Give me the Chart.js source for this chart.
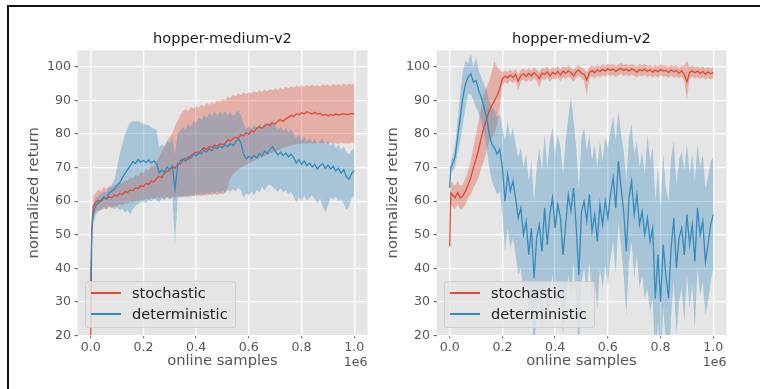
<!DOCTYPE html>
<html lang="en">

<head>
  <meta charset="UTF-8">
  <title>hopper-medium-v2</title>
  <script src="https://cdn.jsdelivr.net/npm/chart.js"></script>
  <style>
    body {
      margin: 0;
      width: 760px;
      height: 389px;
      overflow: hidden;
      position: relative;
      background: #fff;
      font-family: "DejaVu Sans", sans-serif;
    }

    .moldura {
      position: absolute;
      left: 7px;
      top: 5px;
      width: 800px;
      height: 400px;
      border-top: 2px solid #111;
      border-left: 2px solid #111;
    }

    canvas {
      position: absolute;
      top: 0;
    }

    .legenda {
      position: absolute;
      top: 281px;
      width: 151px;
      height: 47px;
      box-sizing: border-box;
      border: 1px solid #cfcfcf;
      border-radius: 3px;
      background: rgba(229, 229, 229, 0.8);
    }

    .traco {
      position: absolute;
      left: 5px;
      width: 30px;
      height: 2px;
    }

    .texto {
      position: absolute;
      left: 46px;
      font-size: 14.6px;
      line-height: 18px;
      color: #222;
      white-space: nowrap;
    }
  </style>
</head>

<body>

  <div class="moldura"></div>

  <canvas id="graficoEsquerda" width="380" height="389" style="left:0px"></canvas>
  <canvas id="graficoDireita" width="380" height="389" style="left:359px"></canvas>

  <div class="legenda" style="left:85px">
    <div class="traco" style="top:10px; background-color:#E24A33"></div>
    <div class="texto" style="top:1.5px">stochastic</div>
    <div class="traco" style="top:31px; background-color:#348ABD"></div>
    <div class="texto" style="top:23px">deterministic</div>
  </div>

  <div class="legenda" style="left:444px">
    <div class="traco" style="top:10px; background-color:#E24A33"></div>
    <div class="texto" style="top:1.5px">stochastic</div>
    <div class="traco" style="top:31px; background-color:#348ABD"></div>
    <div class="texto" style="top:23px">deterministic</div>
  </div>

</body>

</html>

<script>

  // online samples (em 1e6)
  const amostras = [0, 0.004, 0.01, 0.02, 0.03, 0.04, 0.05, 0.06, 0.07, 0.08, 0.09, 0.10,
    0.11, 0.12, 0.13, 0.14, 0.15, 0.16, 0.17, 0.18, 0.19, 0.20,
    0.21, 0.22, 0.23, 0.24, 0.25, 0.26, 0.27, 0.28, 0.29, 0.30,
    0.31, 0.32, 0.33, 0.34, 0.35, 0.36, 0.37, 0.38, 0.39, 0.40,
    0.41, 0.42, 0.43, 0.44, 0.45, 0.46, 0.47, 0.48, 0.49, 0.50,
    0.51, 0.52, 0.53, 0.54, 0.55, 0.56, 0.57, 0.58, 0.59, 0.60,
    0.61, 0.62, 0.63, 0.64, 0.65, 0.66, 0.67, 0.68, 0.69, 0.70,
    0.71, 0.72, 0.73, 0.74, 0.75, 0.76, 0.77, 0.78, 0.79, 0.80,
    0.81, 0.82, 0.83, 0.84, 0.85, 0.86, 0.87, 0.88, 0.89, 0.90,
    0.91, 0.92, 0.93, 0.94, 0.95, 0.96, 0.97, 0.98, 0.99, 1.00];

  const ticksX = [0, 0.2, 0.4, 0.6, 0.8, 1.0];
  const ticksY = [20, 30, 40, 50, 60, 70, 80, 90, 100];

  // grafico da esquerda - stochastic
  const estocEsq = [18, 50, 58.5, 59.8, 60.2, 60.0, 61.0, 60.6, 61.3, 61.0, 61.8, 61.5,
    62.3, 62.0, 62.8, 62.6, 63.4, 63.1, 64.0, 63.8, 64.6, 64.4,
    65.3, 65.0, 66.0, 65.7, 66.8, 67.4, 67.0, 68.3, 68.9, 69.2,
    70.3, 69.8, 71.2, 71.0, 72.2, 72.8, 72.4, 73.6, 74.1, 74.6,
    74.2, 75.3, 75.9, 75.5, 76.3, 76.0, 76.8, 76.4, 77.1, 76.9,
    77.2, 78.3, 78.0, 78.6, 79.1, 78.7, 79.8, 79.5, 80.4, 80.0,
    81.0, 80.7, 81.8, 82.2, 81.7, 82.5, 83.0, 82.6, 83.3, 83.0,
    83.9, 84.3, 83.8, 84.6, 85.0, 85.6, 85.2, 86.1, 85.8, 86.4,
    86.0, 86.7, 86.3, 86.0, 86.5, 85.9, 86.2, 85.6, 85.9, 85.5,
    85.8, 85.6, 86.0, 85.7, 85.9, 86.1, 85.8, 86.0, 86.2, 86.0];

  const estocEsqMax = [22, 55, 61.5, 62.5, 63.5, 63.0, 64.2, 63.6, 64.5, 64.0, 65.0, 64.6,
    65.5, 65.2, 66.2, 66.0, 67.0, 66.8, 67.8, 67.5, 68.6, 68.4,
    69.5, 69.2, 70.6, 70.3, 71.8, 73.5, 74.8, 76.5, 77.8, 79.2,
    80.5, 82.4, 84.0, 85.6, 86.8, 87.5, 86.9, 88.2, 87.6, 88.4,
    87.8, 88.9, 88.2, 89.3, 88.8, 89.6, 89.0, 90.2, 89.6, 90.5,
    90.0, 91.2, 90.8, 91.8, 91.3, 92.2, 91.6, 92.5, 91.9, 92.6,
    92.1, 92.9, 92.4, 93.1, 92.6, 93.3, 92.8, 93.5, 93.0, 93.6,
    93.2, 93.9, 93.4, 94.1, 93.6, 94.3, 93.8, 94.5, 94.0, 94.6,
    94.1, 94.7, 94.2, 94.8, 94.3, 94.7, 94.2, 94.9, 94.4, 94.8,
    94.3, 95.0, 94.5, 94.9, 94.4, 95.1, 94.6, 95.0, 94.7, 95.1];

  const estocEsqMin = [14, 45, 55.5, 57.0, 57.4, 57.2, 57.8, 57.6, 58.2, 58.0, 58.6, 58.4,
    59.0, 58.8, 59.4, 59.2, 59.8, 59.5, 60.2, 59.9, 60.5, 60.2,
    60.8, 60.4, 61.0, 60.6, 61.1, 60.7, 61.2, 60.8, 61.3, 60.9,
    61.4, 61.0, 61.5, 61.1, 61.6, 61.2, 61.7, 61.3, 61.8, 61.4,
    61.9, 61.5, 62.0, 61.6, 62.1, 61.7, 62.2, 61.8, 62.3, 62.0,
    62.5, 64.0, 67.0, 68.0, 68.8, 69.4, 70.0, 70.5, 70.9, 71.3,
    71.7, 72.0, 72.4, 72.8, 73.1, 73.5, 73.8, 74.2, 74.5, 74.9,
    75.2, 75.5, 75.8, 76.1, 76.4, 76.6, 76.8, 77.0, 77.1, 77.2,
    77.3, 77.1, 77.4, 77.2, 77.3, 77.1, 77.4, 77.2, 77.3, 77.2,
    77.4, 77.2, 77.3, 77.1, 77.4, 77.2, 77.3, 77.2, 77.4, 77.3];

  // grafico da esquerda - deterministic
  const determEsq = [36, 52, 56.5, 58.8, 59.6, 60.2, 61.3, 60.8, 62.4, 63.0, 63.6, 64.8,
    65.5, 67.0, 68.2, 69.4, 70.6, 71.8, 71.2, 72.4, 71.6, 72.2,
    71.5, 72.3, 71.4, 72.0, 71.2, 68.4, 69.3, 68.6, 70.2, 69.4,
    70.6, 63.5, 70.8, 72.0, 72.6, 71.9, 73.2, 72.8, 74.0, 73.5,
    74.6, 74.1, 75.2, 74.7, 75.6, 75.0, 76.2, 75.6, 76.5, 76.0,
    76.8, 76.3, 77.2, 76.6, 77.6, 78.6, 77.4, 74.0, 72.6, 73.4,
    72.8, 73.6, 72.9, 74.2, 73.5, 75.0, 74.2, 75.4, 76.2, 75.0,
    73.8, 74.6, 73.6, 74.4, 73.2, 74.0, 73.0, 71.4, 72.4, 71.0,
    72.0, 70.6, 71.4, 70.2, 71.0, 69.6, 70.6, 71.2, 69.8, 70.8,
    69.6, 70.4, 69.0, 69.8, 68.4, 69.4, 67.2, 66.6, 68.2, 69.2];

  const determEsqMax = [38, 55, 59.0, 61.0, 61.6, 62.2, 63.0, 62.6, 64.0, 65.0, 66.5, 70.0,
    74.0, 77.0, 80.0, 82.0, 83.4, 84.0, 83.6, 84.0, 83.4, 83.2,
    82.8, 82.6, 82.0, 81.7, 81.2, 76.0, 77.0, 76.2, 78.0, 77.4,
    79.0, 74.0, 80.2, 81.0, 82.2, 81.4, 83.0, 82.2, 84.0, 83.2,
    85.0, 84.2, 85.6, 84.8, 86.2, 85.4, 86.6, 85.6, 86.8, 85.8,
    86.8, 85.6, 86.6, 85.4, 86.4, 87.0, 85.6, 83.0, 81.4, 82.4,
    81.6, 82.6, 81.8, 83.0, 82.0, 83.4, 82.4, 83.6, 84.0, 82.6,
    81.4, 82.2, 81.0, 81.8, 80.6, 81.4, 80.2, 78.6, 79.8, 78.2,
    79.4, 77.8, 79.0, 77.4, 78.6, 76.8, 78.0, 78.8, 76.8, 78.0,
    76.4, 77.6, 75.8, 77.0, 75.2, 76.4, 74.6, 74.0, 75.2, 75.8];

  const determEsqMin = [34, 48, 53.5, 56.0, 57.0, 57.6, 58.4, 57.6, 58.8, 58.2, 57.6, 58.2,
    57.2, 57.8, 56.6, 57.2, 56.2, 57.6, 58.6, 59.2, 59.6, 60.0,
    59.4, 60.4, 59.8, 60.8, 60.2, 59.6, 60.8, 60.2, 61.2, 60.4,
    61.0, 47.0, 61.0, 61.6, 61.0, 61.8, 61.2, 62.0, 61.4, 62.2,
    61.6, 62.4, 61.8, 62.6, 62.0, 62.8, 62.2, 63.0, 62.4, 63.2,
    62.6, 63.4, 62.8, 63.6, 63.0, 64.0, 63.2, 61.0, 62.4, 61.6,
    63.0, 61.8, 63.4, 62.6, 64.2, 63.2, 64.6, 65.0, 64.2, 63.6,
    62.8, 63.8, 62.6, 63.4, 62.0, 62.8, 61.4, 59.6, 61.2, 60.0,
    61.6, 60.2, 61.0, 61.8, 60.6, 59.4, 60.8, 58.4, 56.6, 58.6,
    61.2, 60.4, 61.4, 59.8, 60.6, 59.2, 57.4, 58.6, 60.8, 62.0];

  // grafico da direita - stochastic
  const estocDir = [46.5, 62.5, 62.0, 61.0, 62.6, 61.0, 61.5, 63.0, 65.0, 67.0, 70.0, 72.5,
    75.5, 79.0, 82.0, 84.5, 87.0, 88.5, 90.0, 91.5, 93.5, 96.5,
    97.3, 96.8, 97.6, 96.9, 97.8, 95.8, 97.5, 98.0, 97.2, 98.1,
    97.4, 98.3, 97.6, 96.6, 98.2, 97.8, 98.6, 97.4, 98.4, 97.9,
    98.7, 97.6, 98.8, 98.1, 98.9, 98.3, 97.4, 98.6, 99.1, 98.2,
    97.8, 96.2, 98.4, 99.0, 98.3, 99.2, 98.6, 99.3, 98.8, 99.5,
    99.0, 99.4, 98.7, 99.3, 99.6, 99.0, 99.4, 98.8, 99.5, 99.1,
    98.5, 99.3, 98.9, 99.4, 98.7, 99.2, 98.5, 99.1, 98.6, 99.3,
    98.8, 99.0, 98.4, 99.2, 98.6, 99.0, 98.2, 98.9, 97.8, 95.6,
    98.4, 98.9, 98.3, 98.8, 98.1, 98.7, 97.9, 98.5, 98.0, 98.4];

  const estocDirMax = [48, 66.0, 65.5, 64.5, 66.0, 64.5, 65.0, 67.0, 69.0, 72.0, 76.0, 80.0,
    84.0, 88.0, 92.0, 94.0, 96.0, 98.5, 102.0, 100.0, 99.0, 98.5,
    99.0, 98.6, 99.2, 98.5, 99.4, 97.8, 99.1, 99.6, 98.8, 99.7,
    99.0, 99.9, 99.2, 98.4, 99.8, 99.4, 100.2, 99.0, 100.0, 99.5,
    100.3, 99.3, 100.4, 99.7, 100.5, 99.9, 99.1, 100.2, 100.7, 99.8,
    99.5, 98.4, 100.0, 100.6, 99.9, 100.8, 100.2, 100.9, 100.4, 101.1,
    100.6, 101.0, 100.3, 100.9, 101.2, 100.6, 101.0, 100.4, 101.1, 100.7,
    100.1, 100.9, 100.5, 101.0, 100.3, 100.8, 100.1, 100.7, 100.2, 100.9,
    100.4, 100.6, 100.0, 100.8, 100.2, 100.6, 99.8, 100.5, 100.4, 102.0,
    100.0, 100.5, 99.9, 100.4, 99.7, 100.3, 99.5, 100.1, 99.6, 100.0];

  const estocDirMin = [45, 59.0, 58.5, 57.5, 59.0, 57.5, 58.0, 59.0, 61.0, 62.0, 64.0, 65.5,
    67.0, 70.0, 72.0, 75.0, 78.0, 79.0, 80.0, 83.0, 88.0, 94.5,
    95.6, 95.0, 95.9, 95.1, 96.1, 93.0, 95.8, 96.3, 95.5, 96.4,
    95.7, 96.6, 95.9, 93.8, 96.5, 96.1, 96.9, 95.6, 96.7, 96.2,
    97.0, 95.8, 97.1, 96.4, 97.2, 96.6, 95.6, 96.9, 97.4, 96.5,
    96.0, 91.5, 96.7, 97.3, 96.6, 97.5, 96.9, 97.6, 97.1, 97.8,
    97.3, 97.7, 97.0, 97.6, 97.9, 97.3, 97.7, 97.1, 97.8, 97.4,
    96.8, 97.6, 97.2, 97.7, 97.0, 97.5, 96.8, 97.4, 96.9, 97.6,
    97.1, 97.3, 96.7, 97.5, 96.9, 97.3, 96.5, 97.2, 95.8, 90.0,
    96.7, 97.2, 96.6, 97.1, 96.4, 97.0, 96.2, 96.8, 96.3, 96.7];

  // grafico da direita - deterministic
  const determDir = [64, 70, 71, 73, 79, 85, 91, 95, 97, 98, 95.5, 96,
    93, 91, 88, 85, 80, 77, 76, 74, 75.5, 70,
    60, 68, 63, 66, 61, 55, 58, 50, 54, 44,
    52, 37, 49, 53, 45, 58, 47, 56, 61, 52,
    59, 55, 44, 53, 62, 57, 64, 52, 38, 57,
    60, 54, 62, 51, 56, 48, 59, 53, 60, 55,
    62, 67, 58, 72, 64, 57, 45, 61, 66, 56,
    62, 53, 57, 50, 55, 48, 52, 31, 44, 30,
    47, 38, 31, 46, 55, 40, 49, 52, 44, 56,
    47, 53, 42, 58, 50, 54, 42, 47, 53, 56];

  const determDirMax = [66, 72, 73, 76, 84, 92, 99, 102, 101, 104, 100, 103,
    99, 97, 95, 93, 90, 88, 87, 85, 86, 82,
    78, 84, 79, 82, 77, 73, 76, 70, 74, 66,
    72, 60, 70, 76, 69, 80, 70, 78, 82, 74,
    80, 76, 68, 78, 85, 91, 84, 76, 64, 79,
    82, 75, 80, 72, 77, 70, 78, 72, 79, 76,
    81, 85, 78, 87, 80, 75, 66, 79, 83, 74,
    78, 70, 75, 68, 80, 72, 76, 60, 70, 58,
    74, 64, 60, 73, 78, 65, 72, 75, 69, 77,
    68, 74, 66, 77, 70, 74, 64, 67, 72, 73];

  const determDirMin = [62, 68, 69, 70, 74, 78, 83, 88, 92, 92, 90, 88,
    86, 84, 80, 76, 70, 66, 64, 62, 63, 56,
    45, 52, 46, 49, 44, 38, 40, 32, 35, 24,
    30, 15, 27, 31, 22, 35, 24, 33, 38, 28,
    36, 32, 20, 30, 38, 30, 42, 30, 14, 36,
    40, 33, 42, 31, 36, 28, 40, 34, 41, 35,
    43, 48, 38, 54, 46, 38, 26, 42, 48, 37,
    44, 34, 38, 31, 34, 27, 31, 12, 24, 10,
    28, 18, 10, 26, 36, 20, 30, 34, 24, 38,
    28, 35, 22, 40, 32, 36, 26, 30, 36, 40];

  const VERMELHO = '#E24A33';
  const AZUL = '#348ABD';
  const FONTE = '"DejaVu Sans", sans-serif';

  // fundo cinza do ggplot + texto "1e6" no canto
  const fundoPlugin = {
    id: 'fundo',
    beforeDraw(chart) {
      const ctx = chart.ctx;
      const a = chart.chartArea;
      ctx.save();
      ctx.fillStyle = '#E5E5E5';
      ctx.fillRect(a.left, a.top, a.right - a.left, a.bottom - a.top);
      ctx.restore();
    },
    afterDraw(chart) {
      const ctx = chart.ctx;
      const a = chart.chartArea;
      ctx.save();
      ctx.font = '12.6px ' + FONTE;
      ctx.fillStyle = '#555';
      ctx.textAlign = 'right';
      ctx.textBaseline = 'alphabetic';
      ctx.fillText('1e6', a.right, 366);
      ctx.restore();
    }
  };

  function pontos(valores) {
    return amostras.map((x, i) => ({ x: x, y: valores[i] }));
  }

  function plotarGrafico(idCanvas, estoc, estocMin, estocMax, determ, determMin, determMax) {

    let dados = {
      datasets: [
        { label: 'stochastic', data: pontos(estoc), borderColor: VERMELHO, borderWidth: 1.3, order: 1 },
        { label: 'deterministic', data: pontos(determ), borderColor: AZUL, borderWidth: 1.3, order: 0 },
        { data: pontos(estocMax), borderColor: 'transparent', borderWidth: 0, fill: false, order: 3 },
        { data: pontos(estocMin), borderColor: 'transparent', borderWidth: 0, fill: '-1', backgroundColor: 'rgba(226,74,51,0.35)', order: 3 },
        { data: pontos(determMax), borderColor: 'transparent', borderWidth: 0, fill: false, order: 2 },
        { data: pontos(determMin), borderColor: 'transparent', borderWidth: 0, fill: '-1', backgroundColor: 'rgba(52,138,189,0.35)', order: 2 }
      ]
    };

    const fonteTicks = { family: FONTE, size: 12.6 };
    const fonteLabel = { family: FONTE, size: 14.7 };

    const config = {
      type: 'line',
      data: dados,
      options: {
        responsive: false,
        animation: false,
        layout: { padding: { left: 0, right: 12.5, top: 0, bottom: 0 } },
        elements: { point: { radius: 0 }, line: { tension: 0 } },
        plugins: {
          legend: { display: false },
          tooltip: { enabled: false },
          filler: { drawTime: 'beforeDatasetsDraw' },
          title: {
            display: true,
            fullSize: false,
            text: 'hopper-medium-v2',
            color: '#1a1a1a',
            font: { family: FONTE, size: 14.6, weight: 'normal' },
            padding: { top: 30.2, bottom: 2.6 }
          }
        },
        scales: {
          x: {
            type: 'linear',
            min: -0.05,
            max: 1.05,
            afterBuildTicks: eixo => { eixo.ticks = ticksX.map(v => ({ value: v })) },
            afterFit: eixo => { eixo.height = 53.7 },
            ticks: {
              color: '#555', font: fonteTicks, padding: 1.5, maxRotation: 0, autoSkip: false,
              callback: v => v.toFixed(1)
            },
            grid: { color: '#ffffff', lineWidth: 1.3, tickColor: '#555', tickLength: 3, tickWidth: 1 },
            border: { display: false },
            title: { display: true, text: 'online samples', color: '#555', font: fonteLabel, padding: { top: 0, bottom: 18.8 } }
          },
          y: {
            min: 20,
            max: 105,
            afterBuildTicks: eixo => { eixo.ticks = ticksY.map(v => ({ value: v })) },
            afterFit: eixo => { eixo.width = 77.5 },
            ticks: {
              color: '#555', font: fonteTicks, padding: 3.5, autoSkip: false,
              callback: v => String(v)
            },
            grid: { color: '#ffffff', lineWidth: 1.3, tickColor: '#555', tickLength: 3, tickWidth: 1 },
            border: { display: false },
            title: { display: true, text: 'normalized return', color: '#555', font: fonteLabel, padding: { top: 25.2, bottom: 0 } }
          }
        }
      },
      plugins: [fundoPlugin]
    };

    let myChart = new Chart(document.getElementById(idCanvas), config);
  }

  plotarGrafico('graficoEsquerda', estocEsq, estocEsqMin, estocEsqMax, determEsq, determEsqMin, determEsqMax);
  plotarGrafico('graficoDireita', estocDir, estocDirMin, estocDirMax, determDir, determDirMin, determDirMax);

</script>
